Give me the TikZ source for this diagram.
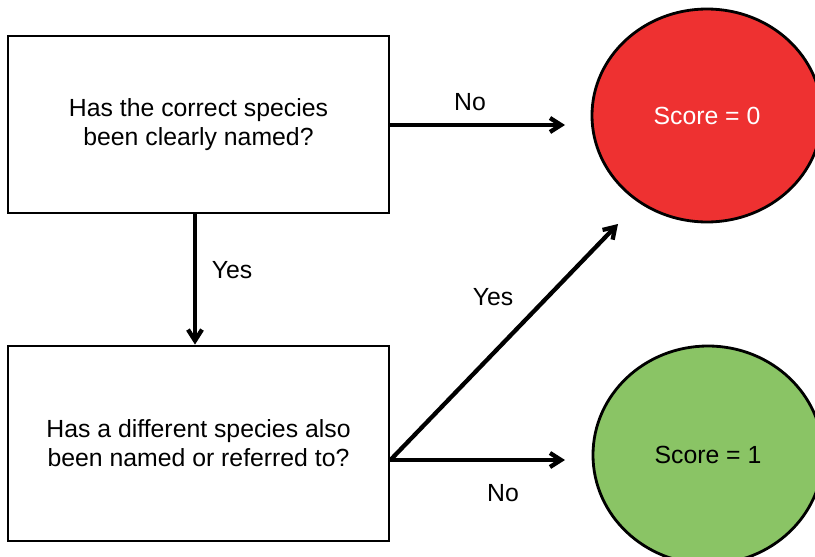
\documentclass[tikz,border=0pt]{standalone}
\usepackage{fontspec}
\setmainfont{Liberation Sans}
\usetikzlibrary{arrows.meta,shapes.geometric}
\definecolor{scorered}{HTML}{EE3131}
\definecolor{scoregreen}{HTML}{8AC465}
\tikzset{
        every node/.style={font=\fontsize{24.8}{29}\selectfont},
        question/.style={draw=black, line width=2.8pt, rectangle, minimum width=381pt, align=center, inner sep=0pt},
        score/.style={ellipse, draw=black, line width=2.8pt, minimum width=230pt, inner sep=0pt},
        arr/.style={line width=4.3pt, -{Straight Barb[length=11pt,width=14pt,line width=4.3pt]}},
        lbl/.style={inner sep=0pt}
          }
\begin{document}
\begin{tikzpicture}[x=1pt, y=-1pt]
            \useasboundingbox (0,0) rectangle (815,557);
            \node[question, minimum height=177pt] (q1) at (198.5,124.5) {Has the correct species\\ been clearly named?};
            \node[question, minimum height=195pt] (q2) at (198.5,443.5) {Has a different species also\\been named or referred to?};
            \node[score, fill=scorered, minimum height=213pt, text=white] (zero) at (707,115.5) {Score = 0};
            \node[score, fill=scoregreen, minimum height=218pt] (one) at (708,455) {Score = 1};
            \coordinate (tozero) at (565,125);
            \coordinate (toone) at (565,460);
            \coordinate (diag) at (618,224);
            \draw[arr] (q1.east |- tozero) -- (tozero);
            \draw[arr] ([xshift=-3.5pt]q1.south) -- ([xshift=-3.5pt]q2.north);
            \draw[arr] (q2.east |- toone) -- (diag);
            \draw[arr] (q2.east |- toone) -- (toone);
            \node[lbl] (no1) at (470,102) {No};
            \node[lbl] (yes1) at (232,270) {Yes};
            \node[lbl] (yes2) at (493,297) {Yes};
            \node[lbl] (no2) at (503,493) {No};
          \end{tikzpicture}
\end{document}
